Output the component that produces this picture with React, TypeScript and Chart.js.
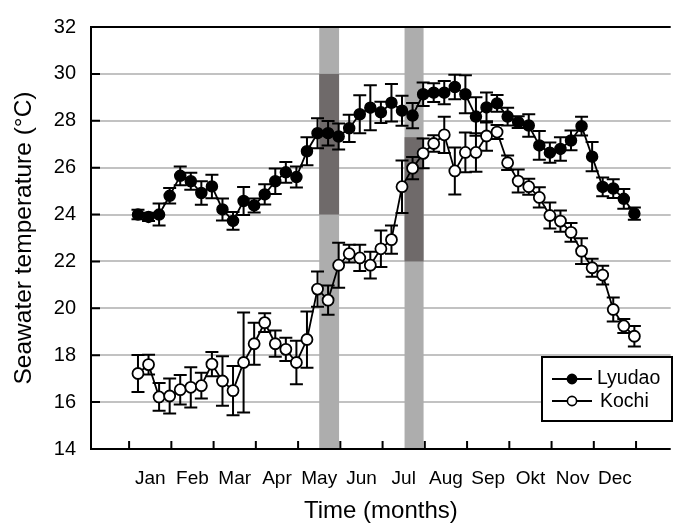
import React, { useEffect, useRef } from "react";
import { Chart, registerables } from "chart.js";

Chart.register(...registerables);

const MONTHS = ["Jan", "Feb", "Mar", "Apr", "May", "Jun", "Jul", "Aug", "Sep", "Okt", "Nov", "Dec"];
const Y_TICKS = [14, 16, 18, 20, 22, 24, 26, 28, 30, 32];

// weekly samples, 4 per month
const LYUDAO = [24.0, 23.9, 24.0, 24.8, 25.65, 25.42, 24.92, 25.2, 24.22, 23.73,
  24.58, 24.39, 24.86, 25.42, 25.8, 25.6, 26.7, 27.47, 27.47, 27.33,
  27.68, 28.28, 28.56, 28.36, 28.77, 28.43, 28.22, 29.13, 29.2, 29.2,
  29.44, 29.13, 28.18, 28.57, 28.74, 28.18, 27.94, 27.8, 26.95, 26.64,
  26.8, 27.16, 27.77, 26.47, 25.18, 25.11, 24.67, 24.04];
const LYUDAO_ERR = [0.2, 0.18, 0.47, 0.33, 0.4, 0.36, 0.5, 0.5, 0.47, 0.38,
  0.6, 0.3, 0.43, 0.54, 0.44, 0.45, 0.6, 0.64, 0.52, 0.55,
  0.58, 0.81, 0.96, 0.45, 0.8, 0.64, 0.54, 0.5, 0.4, 0.5,
  0.52, 0.81, 0.82, 0.64, 0.36, 0.38, 0.25, 0.48, 0.61, 0.43,
  0.5, 0.42, 0.4, 0.62, 0.4, 0.4, 0.42, 0.26];
const KOCHI = [17.22, 17.6, 16.22, 16.26, 16.53, 16.63, 16.7, 17.62, 16.9, 16.49,
  17.69, 18.49, 19.39, 18.49, 18.25, 17.69, 18.67, 20.82, 20.35, 21.84,
  22.33, 22.15, 21.84, 22.54, 22.93, 25.19, 25.98, 26.61, 27.03, 27.4,
  25.86, 26.65, 26.65, 27.35, 27.52, 26.21, 25.43, 25.19, 24.73, 23.96,
  23.72, 23.24, 22.44, 21.73, 21.42, 19.95, 19.25, 18.81];
const KOCHI_ERR = [0.79, 0.42, 0.59, 0.75, 0.63, 0.86, 0.55, 0.52, 1.06, 1.05,
  2.13, 0.9, 0.4, 0.56, 0.5, 0.93, 1.2, 0.75, 0.62, 0.96,
  0.38, 0.56, 0.57, 0.78, 0.6, 1.12, 0.47, 0.63, 0.35, 0.77,
  1.0, 0.85, 0.82, 0.63, 0.3, 0.31, 0.49, 0.34, 0.43, 0.55,
  0.45, 0.4, 0.55, 0.38, 0.4, 0.51, 0.3, 0.44];

// shaded periods: [startMonth, endMonth, darkLow, darkHigh]
const BAND_START = [4.5, 6.52];
const BAND_END = [4.97, 6.97];
const BAND_DARK_LOW = [24, 22];
const BAND_DARK_HIGH = [30, 27.3];

const FIRST_WEEK = 0.21;
const weekX = LYUDAO.map((_, i) => FIRST_WEEK + i / 4);

const FONT = "'Liberation Sans', Arial, sans-serif";

const overlay = {
  id: "overlay",
  beforeDatasetsDraw(chart: any) {
    const { ctx, chartArea, scales } = chart;
    const x = scales.x;
    const y = scales.y;
    ctx.save();
    for (let b = 0; b < BAND_START.length; b++) {
      const x0 = x.getPixelForValue(BAND_START[b]);
      const x1 = x.getPixelForValue(BAND_END[b]);
      ctx.fillStyle = "#adadad";
      ctx.fillRect(x0, chartArea.top, x1 - x0, chartArea.bottom - chartArea.top);
      const yh = y.getPixelForValue(BAND_DARK_HIGH[b]);
      const yl = y.getPixelForValue(BAND_DARK_LOW[b]);
      ctx.fillStyle = "#6f6a6a";
      ctx.fillRect(x0, yh, x1 - x0, yl - yh);
    }
    ctx.strokeStyle = "#000";
    ctx.lineWidth = 2;
    const series = [[LYUDAO, LYUDAO_ERR], [KOCHI, KOCHI_ERR]];
    for (const [vals, errs] of series) {
      for (let i = 0; i < vals.length; i++) {
        const px = x.getPixelForValue(weekX[i]);
        const pt = y.getPixelForValue(vals[i] + errs[i]);
        const pb = y.getPixelForValue(vals[i] - errs[i]);
        ctx.beginPath();
        ctx.moveTo(px, pt);
        ctx.lineTo(px, pb);
        ctx.moveTo(px - 6.5, pt);
        ctx.lineTo(px + 6.5, pt);
        ctx.moveTo(px - 6.5, pb);
        ctx.lineTo(px + 6.5, pb);
        ctx.stroke();
      }
    }
    ctx.restore();
  },
  afterDraw(chart: any) {
    const { ctx, chartArea, scales } = chart;
    const x = scales.x;
    const y = scales.y;
    ctx.save();
    ctx.strokeStyle = "#000";
    ctx.lineWidth = 2;
    ctx.beginPath();
    ctx.moveTo(chartArea.right, chartArea.top);
    ctx.lineTo(chartArea.left, chartArea.top);
    ctx.lineTo(chartArea.left, chartArea.bottom);
    ctx.lineTo(chartArea.right, chartArea.bottom);
    ctx.stroke();
    ctx.beginPath();
    for (const v of Y_TICKS) {
      const py = y.getPixelForValue(v);
      ctx.moveTo(chartArea.left, py);
      ctx.lineTo(chartArea.left + 9, py);
    }
    for (let m = 0; m <= MONTHS.length; m++) {
      const px = x.getPixelForValue(m);
      ctx.moveTo(px, chartArea.bottom);
      ctx.lineTo(px, chartArea.bottom - 8);
    }
    ctx.stroke();

    // legend
    const bx = 542, by = 357, bw = 130, bh = 64;
    ctx.fillStyle = "#fff";
    ctx.fillRect(bx, by, bw, bh);
    ctx.strokeRect(bx, by, bw, bh);
    const entries = [
      { label: "Lyudao", fill: "#000", ly: 379, ty: 384, tx: 597 },
      { label: "Kochi", fill: "#fff", ly: 401, ty: 407, tx: 600 },
    ];
    ctx.font = `19.5px ${FONT}`;
    ctx.textBaseline = "alphabetic";
    ctx.textAlign = "left";
    for (const e of entries) {
      ctx.lineWidth = 2;
      ctx.beginPath();
      ctx.moveTo(552, e.ly);
      ctx.lineTo(592, e.ly);
      ctx.stroke();
      ctx.beginPath();
      ctx.arc(572, e.ly, 4.6, 0, Math.PI * 2);
      ctx.fillStyle = e.fill;
      ctx.fill();
      ctx.lineWidth = 1.6;
      ctx.stroke();
      ctx.fillStyle = "#000";
      ctx.fillText(e.label, e.tx, e.ty);
    }
    ctx.restore();
  },
};

const whiteBg = {
  id: "whiteBg",
  beforeDraw(chart: any) {
    const { ctx, width, height } = chart;
    ctx.save();
    ctx.fillStyle = "#fff";
    ctx.fillRect(0, 0, width, height);
    ctx.restore();
  },
};

export default function App() {
  const ref = useRef<HTMLCanvasElement | null>(null);
  useEffect(() => {
    if (!ref.current) return;
    const chart = new Chart(ref.current, {
      type: "line",
      data: {
        datasets: [
          {
            label: "Lyudao",
            data: weekX.map((xv, i) => ({ x: xv, y: LYUDAO[i] })),
            borderColor: "#000",
            borderWidth: 1.8,
            pointRadius: 5.5,
            pointBackgroundColor: "#000",
            pointBorderColor: "#000",
            pointBorderWidth: 1.5,
            tension: 0,
          },
          {
            label: "Kochi",
            data: weekX.map((xv, i) => ({ x: xv, y: KOCHI[i] })),
            borderColor: "#000",
            borderWidth: 1.8,
            pointRadius: 5.5,
            pointBackgroundColor: "#fff",
            pointBorderColor: "#000",
            pointBorderWidth: 1.8,
            tension: 0,
          },
        ],
      },
      options: {
        animation: false,
        responsive: false,
        devicePixelRatio: 1,
        layout: { padding: { top: 19, left: 0, right: 0, bottom: 0 } },
        plugins: { legend: { display: false }, tooltip: { enabled: false } },
        scales: {
          x: {
            type: "linear",
            min: -0.902,
            max: 12.82,
            grid: { display: false, drawTicks: false },
            border: { display: false },
            afterFit: (s: any) => { s.height = 77; },
            afterBuildTicks: (s: any) => {
              s.ticks = MONTHS.map((_, i) => ({ value: i + 0.5 }));
            },
            ticks: {
              autoSkip: false,
              maxRotation: 0,
              padding: 18,
              color: "#000",
              font: { family: FONT, size: 19 },
              callback: (_v: any, idx: number) => MONTHS[idx],
            },
            title: {
              display: true,
              text: "Time (months)",
              color: "#000",
              font: { family: FONT, size: 24 },
              padding: { top: 0, bottom: 0 },
            },
          },
          y: {
            min: 14,
            max: 32,
            grid: {
              drawTicks: false,
              lineWidth: 2,
              color: (c: any) => (c.tick && (c.tick.value === 14 || c.tick.value === 32) ? "rgba(0,0,0,0)" : "#c2c2c2"),
            },
            border: { display: false },
            afterFit: (s: any) => { s.width = 91; },
            afterBuildTicks: (s: any) => {
              s.ticks = Y_TICKS.map((v) => ({ value: v }));
            },
            ticks: {
              padding: 15,
              color: "#000",
              font: { family: FONT, size: 20 },
            },
            title: {
              display: true,
              text: "Seawater temperature (°C)",
              color: "#000",
              font: { family: FONT, size: 24.5 },
              padding: { top: 10, bottom: 0 },
            },
          },
        },
      },
      plugins: [whiteBg, overlay],
    });
    return () => chart.destroy();
  }, []);
  return (
    <div style={{ position: "absolute", left: 0, top: 0, width: 678, height: 526 }}>
      <canvas ref={ref} width={678} height={526} style={{ display: "block" }} />
    </div>
  );
}
